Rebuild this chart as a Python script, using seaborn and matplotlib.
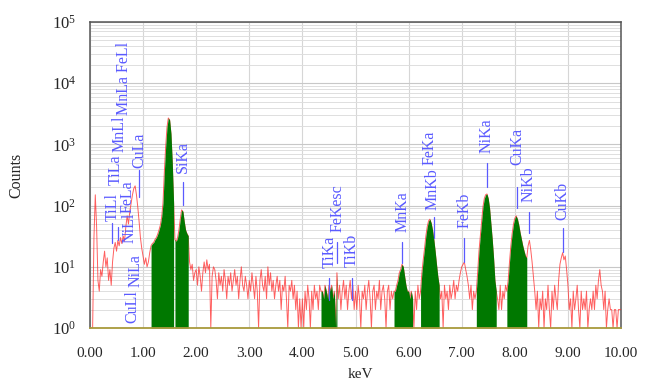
import numpy as np
import pandas as pd
import seaborn as sns
import matplotlib.pyplot as plt
from matplotlib.ticker import LogLocator, FixedLocator, NullFormatter

# spectrum counts, one value per 0.025 keV channel (0.000 ... 10.000 keV)
counts = [
    # 0-1 keV
    1, 1, 1, 30, 150, 45, 6, 4, 9, 7, 12, 18, 10, 14, 6, 9, 5, 12, 20, 25,
    18, 27, 22, 30, 24, 32, 26, 45, 68, 50, 80, 110, 150, 190, 210, 150, 95, 55, 30, 20,
    # 1-2 keV
    15, 11, 14, 10, 12, 17, 22, 24, 25, 28, 30, 34, 40, 48, 65, 110, 350, 900, 1900, 2700,
    2500, 1500, 500, 110, 28, 26, 30, 40, 60, 85, 80, 55, 40, 35, 32, 12, 9, 11, 6, 8,
    # 2-3 keV
    9, 5, 10, 7, 4, 8, 12, 8, 13, 9, 11, 1, 7, 10, 9, 6, 3, 8, 5, 7,
    4, 9, 6, 3, 7, 5, 8, 4, 6, 9, 5, 7, 3, 6, 10, 5, 4, 7, 5, 3,
    # 3-4 keV
    6, 4, 8, 5, 3, 7, 4, 1, 6, 9, 5, 4, 7, 3, 10, 5, 8, 4, 6, 3,
    5, 7, 4, 6, 2, 5, 4, 7, 3, 1, 5, 4, 6, 3, 5, 2, 4, 1, 3, 1,
    # 4-5 keV
    3, 1, 4, 2, 5, 3, 1, 4, 2, 5, 3, 4, 2, 5, 4, 4, 3, 5, 4, 3,
    5, 4, 5, 3, 4, 1, 8, 3, 5, 2, 4, 6, 3, 5, 2, 4, 6, 3, 5, 2,
    # 5-6 keV
    4, 2, 5, 3, 1, 4, 3, 5, 2, 4, 6, 3, 1, 4, 5, 2, 4, 3, 6, 2,
    4, 5, 3, 1, 4, 5, 2, 4, 3, 4, 4, 5, 6, 8, 9, 11, 10, 7, 5, 4,
    # 6-7 keV
    4, 3, 4, 3, 1, 4, 2, 5, 3, 4, 8, 13, 20, 32, 45, 56, 60, 52, 40, 28,
    18, 11, 7, 5, 3, 4, 1, 5, 3, 4, 2, 5, 3, 4, 6, 3, 5, 4, 6, 8,
    # 7-8 keV
    10, 11, 12, 9, 7, 5, 3, 5, 2, 4, 3, 4, 8, 18, 32, 55, 95, 130, 150, 155,
    130, 90, 50, 28, 14, 6, 4, 3, 2, 5, 2, 4, 3, 5, 4, 6, 12, 22, 35, 50,
    # 8-9 keV
    62, 68, 60, 48, 36, 28, 22, 18, 15, 14, 22, 27, 19, 12, 7, 4, 2, 4, 1, 3,
    2, 4, 1, 3, 2, 5, 2, 1, 4, 2, 5, 3, 2, 6, 11, 14, 17, 13, 15, 9,
    # 9-10 keV
    5, 2, 3, 1, 4, 2, 3, 5, 2, 1, 4, 2, 3, 2, 4, 1, 2, 3, 2, 4,
    2, 5, 3, 6, 9, 5, 4, 2, 4, 1, 2, 3, 2, 2, 1, 2, 2, 1, 2, 2,
    2,
]
energy = np.linspace(0, 10, len(counts))

# regions of interest drawn in green (keV)
roi_start = [1.15, 1.60, 4.34, 5.72, 6.21, 7.27, 7.85]
roi_end = [1.58, 1.86, 4.66, 6.08, 6.58, 7.67, 8.24]

# peak labels: text, x (keV), bottom of text (counts)
peak_names = ["TiLl", "TiLa", "MnLl", "MnLa FeLl", "CuLa", "FeLa", "NiLl", "NiLa", "CuLl",
              "SiKa", "TiKa", "FeKesc", "TiKb", "MnKa", "MnKb", "FeKa", "FeKb",
              "NiKa", "CuKa", "NiKb", "CuKb"]
peak_x = [0.42, 0.48, 0.565, 0.646, 0.93, 0.71, 0.75, 0.85, 0.80,
          1.75, 4.51, 4.66, 4.93, 5.89, 6.46, 6.40, 7.06,
          7.47, 8.04, 8.26, 8.90]
peak_text_y = [55, 220, 760, 3020, 411, 76, 24.5, 4.7, 1.2,
               341, 9.6, 37, 9.9, 37, 85, 460, 43,
               723, 460, 115, 58]

# marker lines under labels: x (keV), low and high (counts)
mark_x = [0.42, 0.53, 0.92, 1.745, 4.51, 4.645, 4.93, 5.88, 6.48, 7.05, 7.48, 8.04, 8.26, 8.90]
mark_lo = [24.5, 27, 138, 102, 2.9, 11.5, 2.9, 11.5, 29.6, 12, 201, 91, 35.7, 17.5]
mark_hi = [52, 44, 382, 243, 6.6, 25.4, 6.6, 25.4, 65, 29.6, 497, 201, 78.6, 43]

df = pd.DataFrame({"keV": energy, "Counts": counts})

sns.set_style("white")
plt.rcParams["font.family"] = ["Liberation Serif", "DejaVu Serif"]
plt.rcParams["mathtext.fontset"] = "stix"

fig = plt.figure(figsize=(6.52, 3.85), dpi=100)
ax = fig.add_axes([0.138, 0.148, 0.8145, 0.795])

sns.lineplot(data=df, x="keV", y="Counts", estimator=None, color="#ff2a2a",
             lw=0.7, alpha=0.75, ax=ax, zorder=3)

cvals = np.array(counts, dtype=float)
for a, b in zip(roi_start, roi_end):
    mask = (energy >= a - 1e-9) & (energy <= b + 1e-9)
    ax.fill_between(energy, 1, cvals, where=mask, color="#007800", lw=0, zorder=4)

ax.set_yscale("log")
ax.set_xlim(0, 10)
ax.set_ylim(1, 1e5)

ax.xaxis.set_major_locator(FixedLocator(np.arange(0, 11)))
ax.set_xticklabels([f"{v:.2f}" for v in range(11)])
ax.yaxis.set_major_locator(LogLocator(base=10, numticks=10))
ax.yaxis.set_minor_locator(LogLocator(base=10, subs=np.arange(2, 10), numticks=20))
ax.yaxis.set_minor_formatter(NullFormatter())

ax.grid(True, which="major", axis="x", color="#d6d6d6", lw=0.8)
ax.grid(True, which="major", axis="y", color="#c8c8c8", lw=0.8)
ax.grid(True, which="minor", axis="y", color="#dedede", lw=0.7)
ax.set_axisbelow(True)

ax.tick_params(axis="x", which="major", direction="out", length=7, width=1,
               color="#555555", pad=7, labelsize=11)
ax.tick_params(axis="y", which="major", direction="out", length=8, width=1,
               color="#555555", pad=2, labelsize=12)
ax.tick_params(axis="y", which="minor", length=0)

for side in ["left", "top", "right"]:
    ax.spines[side].set_color("#555555")
    ax.spines[side].set_linewidth(1.1)
ax.spines["bottom"].set_color("#a89a3c")
ax.spines["bottom"].set_linewidth(1.3)
ax.spines["bottom"].set_zorder(6)

blue = "#5a5aff"
for x, lo, hi in zip(mark_x, mark_lo, mark_hi):
    ax.plot([x, x], [lo, hi], color=blue, lw=0.9, zorder=5)
for name, x, y in zip(peak_names, peak_x, peak_text_y):
    ax.text(x, y, name, rotation=90, ha="center", va="bottom", color=blue,
            fontsize=11.5, zorder=5)

ax.set_xlabel("keV", fontsize=11)
ax.set_ylabel("Counts", fontsize=11.5)
ax.xaxis.set_label_coords(0.51, -0.13)
ax.yaxis.set_label_coords(-0.124, 0.5)

plt.savefig("out.png", dpi=100)
